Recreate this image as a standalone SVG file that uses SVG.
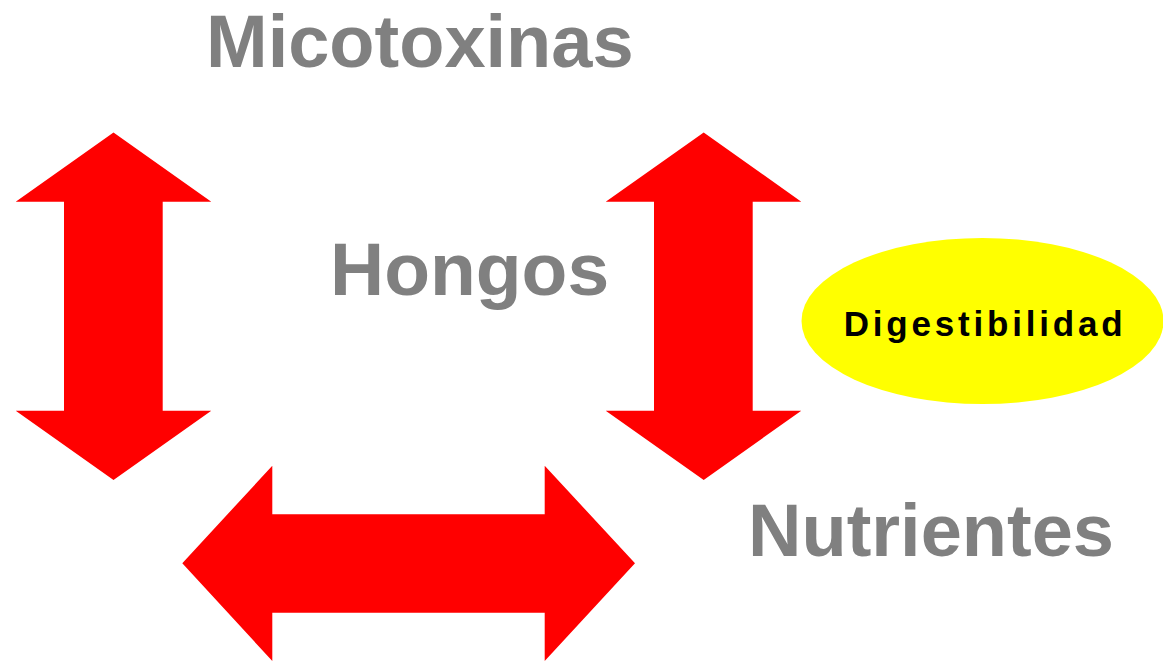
<svg xmlns="http://www.w3.org/2000/svg" width="1163" height="662" viewBox="0 0 1163 662">
<style>
.arrow{fill:#FF0000;stroke:none}
.big{font-family:"Liberation Sans",Arial,sans-serif;font-weight:bold;font-size:74px;fill:#808080}
.small{font-family:"Liberation Sans",Arial,sans-serif;font-weight:bold;font-size:35px;fill:#000000;letter-spacing:3.8px}
</style>
<rect width="1163" height="662" fill="#FFFFFF"/>
<g id="connectors">
<polygon class="arrow" points="113.5,132.5 211.3,201.7 162.7,201.7 162.7,410.7 211.3,410.7 113.5,480 15.7,410.7 64,410.7 64,201.7 15.7,201.7"/>
<polygon class="arrow" points="703.7,132.5 801.3,201.7 752.7,201.7 752.7,410.7 801.3,410.7 703.7,480 605.7,410.7 654,410.7 654,201.7 605.7,201.7"/>
<polygon class="arrow" points="182.3,563.3 272.3,465.7 272.3,514.3 544.7,514.3 544.7,465.7 635,563.3 544.7,661 544.7,612.7 272.3,612.7 272.3,661"/>
</g>
<g id="micotoxinas"><text class="big" x="206" y="67">Micotoxinas</text></g>
<g id="hongos"><text class="big" x="330" y="295" style="font-size:75px">Hongos</text></g>
<g id="nutrientes"><text class="big" x="748" y="555.7">Nutrientes</text></g>
<g id="digestibilidad">
<ellipse cx="982.5" cy="321" rx="181" ry="83" fill="#FFFF00"/>
<text class="small" x="985" y="336" text-anchor="middle">Digestibilidad</text>
</g>
</svg>
